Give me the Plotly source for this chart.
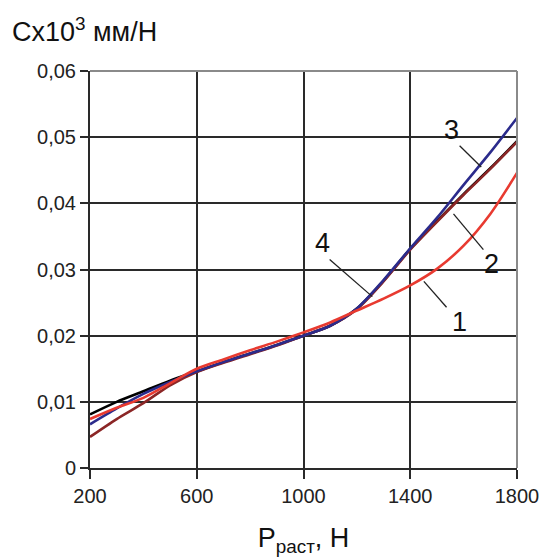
import plotly.graph_objects as go

P = [200, 300, 400, 500, 600, 700, 800, 900, 1000, 1100, 1200, 1300, 1400, 1500, 1600, 1700, 1800]
c1 = [0.0074, 0.0091, 0.0106, 0.0128, 0.0150, 0.0164, 0.0178, 0.0191, 0.0205, 0.0220, 0.0238, 0.0256, 0.0276, 0.0301, 0.0336, 0.0384, 0.0446]
c2 = [0.0047, 0.0074, 0.0098, 0.0125, 0.0145, 0.0159, 0.0172, 0.0185, 0.0200, 0.0215, 0.0240, 0.0282, 0.0330, 0.0372, 0.0413, 0.0452, 0.0493]
c3 = [0.0066, 0.0090, 0.0112, 0.0130, 0.0146, 0.0160, 0.0173, 0.0186, 0.0200, 0.0215, 0.0241, 0.0284, 0.0332, 0.0378, 0.0428, 0.0477, 0.0529]
c4 = [0.0081, 0.0100, 0.0116, 0.0132, 0.0146, 0.0160, 0.0173, 0.0186, 0.0200, 0.0215, 0.0241, 0.0283, 0.0331, 0.0373, 0.0414, 0.0453, 0.0494]

xticks = [200, 600, 1000, 1400, 1800]
yticks = [0, 0.01, 0.02, 0.03, 0.04, 0.05, 0.06]
yticktext = ["0", "0,01", "0,02", "0,03", "0,04", "0,05", "0,06"]

labels = ["1", "2", "3", "4"]
label_xy = [(1585, 0.0220), (1703, 0.0308), (1555, 0.0511), (1072, 0.0340)]
leader = [((1451, 0.0282), (1536, 0.0243)),
          ((1562, 0.0384), (1674, 0.0330)),
          ((1585, 0.0487), (1666, 0.0455)),
          ((1098, 0.0315), (1258, 0.0259))]

font = "Liberation Sans, Arial, sans-serif"

fig = go.Figure()
series = [(c4, "black"), (c2, "#8b2626"), (c3, "#2b2b8c"), (c1, "#e83a30")]
for vals, col in series:
    fig.add_trace(go.Scatter(x=P, y=vals, mode="lines",
                             line=dict(color=col, width=2.6, shape="spline", smoothing=0.8),
                             showlegend=False, hoverinfo="skip"))

shapes = []
for (a, b) in leader:
    shapes.append(dict(type="line", xref="x", yref="y", x0=a[0], y0=a[1], x1=b[0], y1=b[1],
                       line=dict(color="#222", width=1.3)))
shapes.append(dict(type="line", xref="paper", yref="paper", x0=0, y0=1, x1=1, y1=1, line=dict(color="#8a8a8a", width=2)))
shapes.append(dict(type="line", xref="paper", yref="paper", x0=1, y0=0, x1=1, y1=1, line=dict(color="#8a8a8a", width=2)))

annotations = []
for t, (x, y) in zip(labels, label_xy):
    annotations.append(dict(x=x, y=y, xref="x", yref="y", text=t, showarrow=False,
                            font=dict(family=font, size=27, color="#111")))
annotations.append(dict(x=-0.188, y=1.15, xref="paper", yref="paper", xanchor="left", yanchor="top",
                        text="Cx10<sup>3</sup> мм/Н", showarrow=False,
                        font=dict(family=font, size=27, color="#111")))

fig.update_layout(
    width=551, height=560,
    margin=dict(l=90, r=30, t=71, b=91),
    paper_bgcolor="white", plot_bgcolor="white",
    shapes=shapes, annotations=annotations,
    font=dict(family=font, size=20, color="#222"),
)
fig.update_xaxes(range=[200, 1800], tickvals=xticks, ticktext=[str(v) for v in xticks],
                 showgrid=True, gridcolor="#2a2a2a", gridwidth=1.6,
                 showline=True, linecolor="#2a2a2a", linewidth=2,
                 ticks="outside", ticklen=9, tickwidth=1.6, tickcolor="#2a2a2a",
                 zeroline=False,
                 title=dict(text="P<sub>раст</sub>, Н", font=dict(family=font, size=27, color="#111"), standoff=22))
fig.update_yaxes(range=[0, 0.06], tickvals=yticks, ticktext=yticktext,
                 showgrid=True, gridcolor="#2a2a2a", gridwidth=1.6,
                 showline=True, linecolor="#2a2a2a", linewidth=2,
                 ticks="outside", ticklen=8, tickwidth=1.6, tickcolor="#2a2a2a",
                 zeroline=False)

fig.write_html("out.html")
